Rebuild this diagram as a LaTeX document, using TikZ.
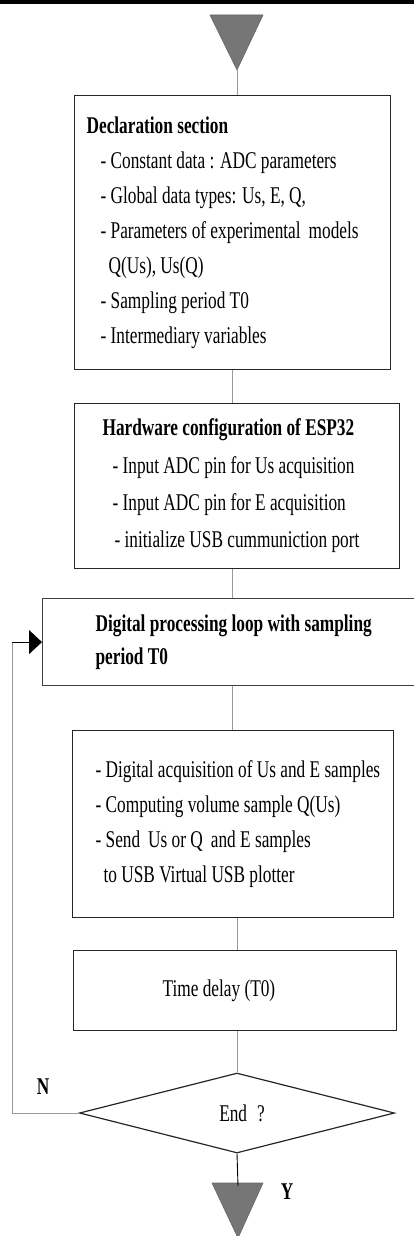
\documentclass[tikz,border=0pt]{standalone}
\usepackage{fontspec}
\setmainfont{Liberation Serif}[FakeStretch=0.72]
\usetikzlibrary{shapes.geometric,arrows.meta}

\definecolor{linegray}{HTML}{9A9A9A}
\definecolor{termgray}{HTML}{767676}
\newcommand{\flowfont}{\fontsize{24}{35}\selectfont\hyphenpenalty=10000}

\tikzset{
	block/.style={draw=black!85, line width=1.2pt, rectangle, anchor=north west, align=flush left, font=\flowfont},
	link/.style={draw=linegray, line width=0.9pt},
	term/.style={fill=termgray, draw=black!60, line width=0.6pt},
	answer/.style={font=\flowfont\bfseries}
}

\begin{document}
\begin{tikzpicture}[x=1pt, y=-1pt]
		\useasboundingbox (0,0) rectangle (414,1236);
		\clip (0,0) rectangle (414,1236);
		\fill[black] (0,0) rectangle (414,4);
		% start and stop
		\filldraw[term] (210,15) -- (263,15) -- (237,70) -- cycle;
		\coordinate (start) at (237,70);
		\filldraw[term] (212,1183) -- (263,1183) -- (238,1238) -- cycle;
		\coordinate (stop) at (238,1186);
		% blocks
		\node[block, inner xsep=12pt, text width=292pt, minimum height=274pt] (decl) at (74,95) {\textbf{Declaration section}\\
			\hspace*{14pt}- Constant data : ADC parameters\\
			\hspace*{14pt}- Global data types: Us, E, Q,\\
			\hspace*{14pt}- Parameters of experimental\hspace{8pt}models\\
			\hspace*{22pt}Q(Us), Us(Q)\\
			\hspace*{14pt}- Sampling period T0\\
			\hspace*{14pt}- Intermediary variables};
		\node[block, inner xsep=28pt, text width=269pt, minimum height=165pt] (hw) at (74,403) {\textbf{Hardware configuration of ESP32}\\[3pt]
			\hspace*{10pt}- Input ADC pin for Us acquisition\\[2pt]
			\hspace*{10pt}- Input ADC pin for E acquisition\\[2pt]
			\hspace*{12pt}- initialize USB cummuniction port};
		\node[block, draw=black!75, inner xsep=53pt, text width=300pt, minimum height=87pt] (loop) at (42,598) {\textbf{Digital processing loop with sampling}\\[-2pt]
			\textbf{period T0}};
		\node[block, inner xsep=23pt, text width=275pt, minimum height=187pt] (acq) at (72,730) {\mbox{- Digital acquisition of Us and E samples}\\
			- Computing volume sample Q(Us)\\
			- Send\hspace{8pt}Us or Q\hspace{8pt}and E samples\\
			\hspace*{8pt}to USB Virtual USB plotter};
		\node[block, inner xsep=89pt, text width=145pt, minimum height=80pt] (delay) at (73,950) {Time delay (T0)};
		\node[draw=black!85, line width=1.2pt, diamond, minimum width=315pt, minimum height=80pt, inner sep=0pt, font=\flowfont] (end) at (237,1113) {\hspace*{10pt}End\hspace{10pt}?};
		% connectors
		\draw[link] (start) -- (start |- decl.north);
		\draw[link] (decl.south) -- (decl.south |- hw.north);
		\draw[link] (decl.south |- hw.south) -- (decl.south |- loop.north);
		\draw[link] (decl.south |- loop.south) -- (decl.south |- acq.north);
		\draw[link] (end.north |- acq.south) -- (end.north |- delay.north);
		\draw[link] (end.north |- delay.south) -- (end.north);
		\draw[black, line width=0.9pt] (end.south) -- (stop);
		\coordinate (back) at (12,1113);
		\draw[link] (end.west) -- (back) -- (back |- loop.west);
		\draw[black, line width=1pt, -{Triangle[length=13pt, width=24pt]}] (back |- loop.west) -- (loop.west);
		\node[answer] (no) at (43,1087) {N};
		\node[answer] (yes) at (287,1192) {Y};
\end{tikzpicture}
\end{document}
